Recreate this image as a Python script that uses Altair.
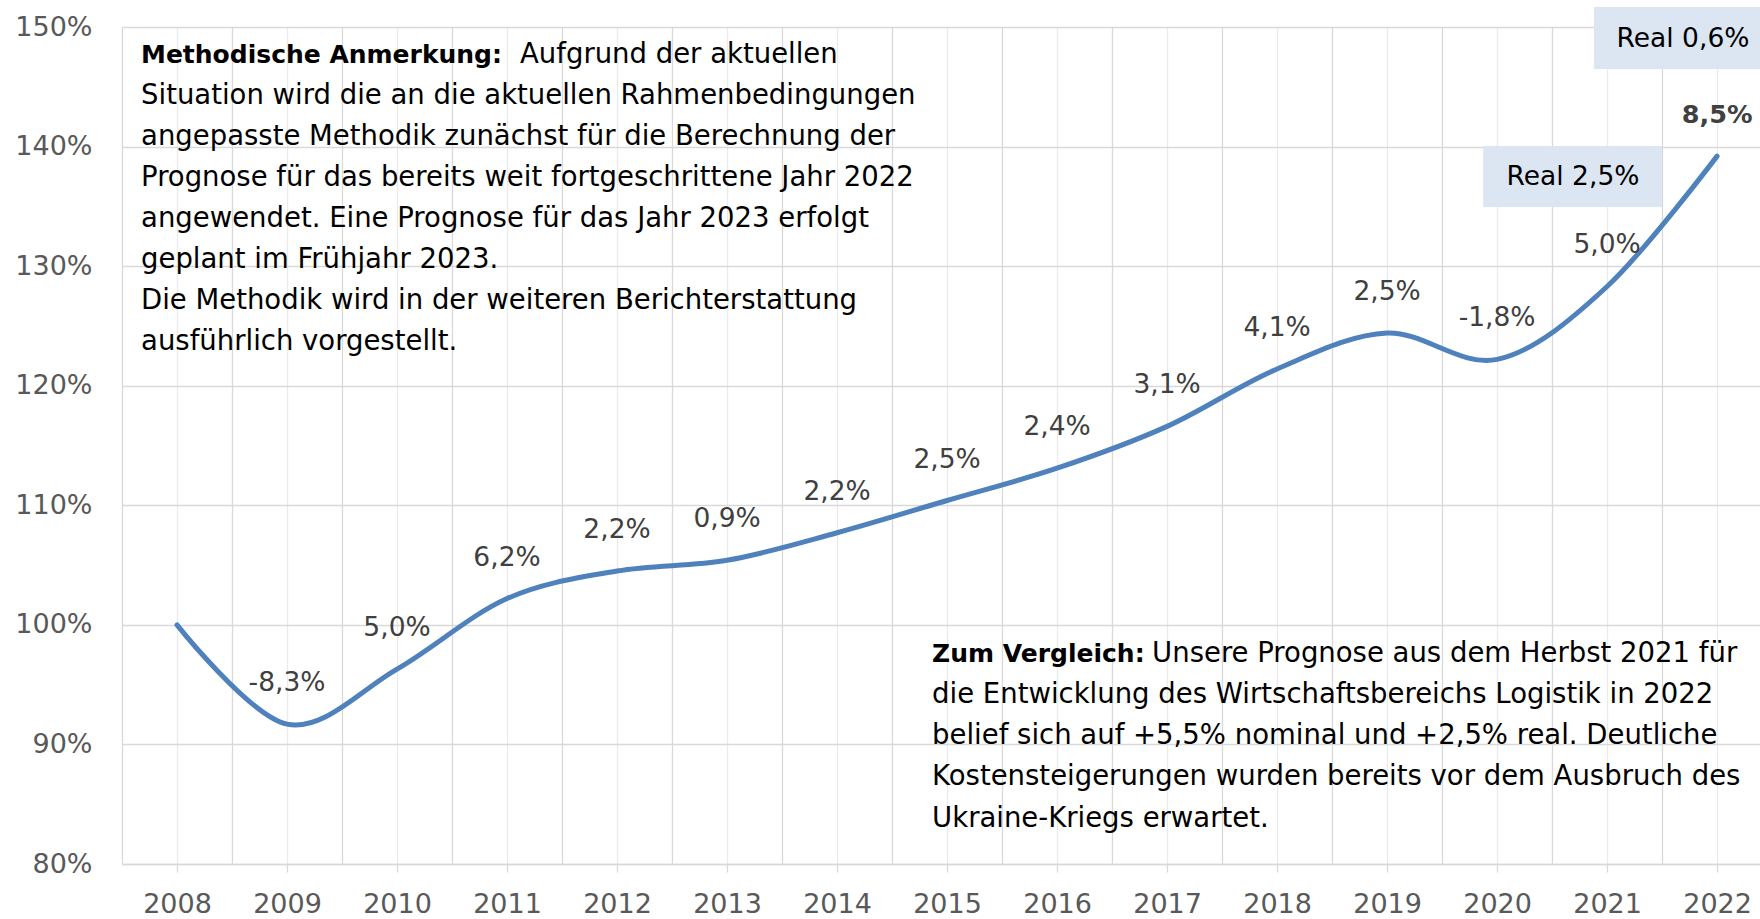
import altair as alt
import pandas as pd

# ---------------- data ----------------
years = list(range(2008, 2023))
index_pct = [100.0, 91.7, 96.3, 102.2, 104.5, 105.4, 107.7, 110.4, 113.1,
             116.6, 121.4, 124.4, 122.2, 128.3, 139.2]
growth_labels = ["", "-8,3%", "5,0%", "6,2%", "2,2%", "0,9%", "2,2%", "2,5%",
                 "2,4%", "3,1%", "4,1%", "2,5%", "-1,8%", "5,0%", "8,5%"]
y_ticks = [80, 90, 100, 110, 120, 130, 140, 150]
real_labels = ["Real 2,5%", "Real 0,6%"]

method_head = "Methodische Anmerkung:"
method_first = "Aufgrund der aktuellen"
method_lines = [
    "Situation wird die an die aktuellen Rahmenbedingungen",
    "angepasste Methodik zunächst für die Berechnung der",
    "Prognose für das bereits weit fortgeschrittene Jahr 2022",
    "angewendet. Eine Prognose für das Jahr 2023 erfolgt",
    "geplant im Frühjahr 2023.",
    "Die Methodik wird in der weiteren Berichterstattung",
    "ausführlich vorgestellt.",
]
compare_head = "Zum Vergleich:"
compare_first = "Unsere Prognose aus dem Herbst 2021 für"
compare_lines = [
    "die Entwicklung des Wirtschaftsbereichs Logistik in 2022",
    "belief sich auf +5,5% nominal und +2,5% real. Deutliche",
    "Kostensteigerungen wurden bereits vor dem Ausbruch des",
    "Ukraine-Kriegs erwartet.",
]

FONT = "DejaVu Sans"
BLUE = "#4F81BD"
GRID = "#d9d9d9"
GRID_LIGHT = "#ebebeb"
AX_LABEL = "#595959"
DATA_LABEL = "#404040"
BOX = "#dce6f2"
ANN_SIZE = 27.5
ANN_BOLD_SIZE = 25
LABEL_SIZE = 26.5

df = pd.DataFrame({"year": years, "value": index_pct, "label": growth_labels})
df_norm = df[(df["label"] != "") & (df["year"] != 2022)]
df_bold = df[df["year"] == 2022]

bounds = [y - 0.5 for y in years]  # category boundaries for the darker grid

xscale = alt.Scale(domain=[2007.5, 2022.39], nice=False, zero=False)
yscale = alt.Scale(domain=[80, 150], nice=False, zero=False)

x_axis_main = alt.Axis(
    values=years, format="d", title=None, orient="bottom",
    grid=True, gridColor=GRID_LIGHT, gridWidth=1.3,
    ticks=True, tickSize=8, tickColor=GRID, tickWidth=1.3,
    domain=True, domainColor=GRID, domainWidth=1.5,
    labelFont=FONT, labelFontSize=27, labelColor=AX_LABEL,
    labelPadding=19, labelFlush=False, labelOverlap=False,
)
x_axis_bounds = alt.Axis(
    values=bounds, title=None, orient="bottom",
    grid=True, gridColor=GRID, gridWidth=1.3,
    ticks=False, labels=False, domain=False,
)
y_axis = alt.Axis(
    values=y_ticks, title=None, grid=True, gridColor=GRID, gridWidth=1.3,
    ticks=False, domain=False, labelExpr="datum.value + '%'",
    labelFont=FONT, labelFontSize=27, labelColor=AX_LABEL, labelPadding=30,
)


def X(field="year", axis=None):
    return alt.X(f"{field}:Q", scale=xscale, axis=axis)


def Y(field="value"):
    return alt.Y(f"{field}:Q", scale=yscale, axis=y_axis)


line = alt.Chart(df).mark_line(
    color=BLUE, strokeWidth=5, interpolate="cardinal", strokeCap="round"
).encode(x=X(axis=x_axis_main), y=Y())

labels = alt.Chart(df_norm).mark_text(
    font=FONT, fontSize=LABEL_SIZE, color=DATA_LABEL, dy=-41, baseline="middle"
).encode(x=X(), y=Y(), text="label:N")

labels_bold = alt.Chart(df_bold).mark_text(
    font=FONT, fontSize=LABEL_SIZE - 1, color=DATA_LABEL, dy=-41,
    baseline="middle", fontWeight="bold"
).encode(x=X(), y=Y(), text="label:N")

# "Real" boxes
box_df = pd.DataFrame({
    "year": [2019.873, 2020.88], "year2": [2021.5, 2022.39],
    "value": [140.05, 151.67], "value2": [134.95, 146.49],
})
boxes = alt.Chart(box_df).mark_rect(color=BOX).encode(
    x=X(axis=x_axis_bounds), x2="year2:Q", y=Y(), y2="value2:Q"
)
box_text_df = pd.DataFrame({
    "year": [2020.69, 2021.69], "value": [137.45, 149.0], "text": real_labels
})
box_text = alt.Chart(box_text_df).mark_text(
    font=FONT, fontSize=LABEL_SIZE, color="#000000", baseline="middle",
    align="center"
).encode(x=X(), y=Y(), text="text:N")


# annotation texts
def ann(year, value, text, bold=False, lh=41):
    d = pd.DataFrame({"year": [year], "value": [value], "text": [text]})
    kw = dict(font=FONT, fontSize=ANN_BOLD_SIZE if bold else ANN_SIZE,
              color="#000000", align="left", baseline="alphabetic",
              lineBreak="\n", lineHeight=lh)
    if bold:
        kw["fontWeight"] = "bold"
    return alt.Chart(d).mark_text(**kw).encode(x=X(), y=Y(), text="text:N")


ann_layers = [
    ann(2007.673, 146.99, method_head, bold=True),
    ann(2011.118, 146.99, method_first),
    ann(2007.673, 143.56, "\n".join(method_lines), lh=41),
    ann(2014.864, 96.89, compare_head, bold=True),
    ann(2016.864, 96.89, compare_first),
    ann(2014.864, 93.46, "\n".join(compare_lines), lh=41.2),
]

chart = alt.layer(
    boxes, box_text, line, labels, labels_bold, *ann_layers
).resolve_axis(x="independent").properties(
    width=1638, height=837,
    padding={"left": 122, "top": 27, "right": 0, "bottom": 55},
    autosize=alt.AutoSizeParams(type="none"),
    background="white",
).configure_view(stroke=None)

chart.save("out.html", embed_options={"renderer": "svg", "actions": False})
